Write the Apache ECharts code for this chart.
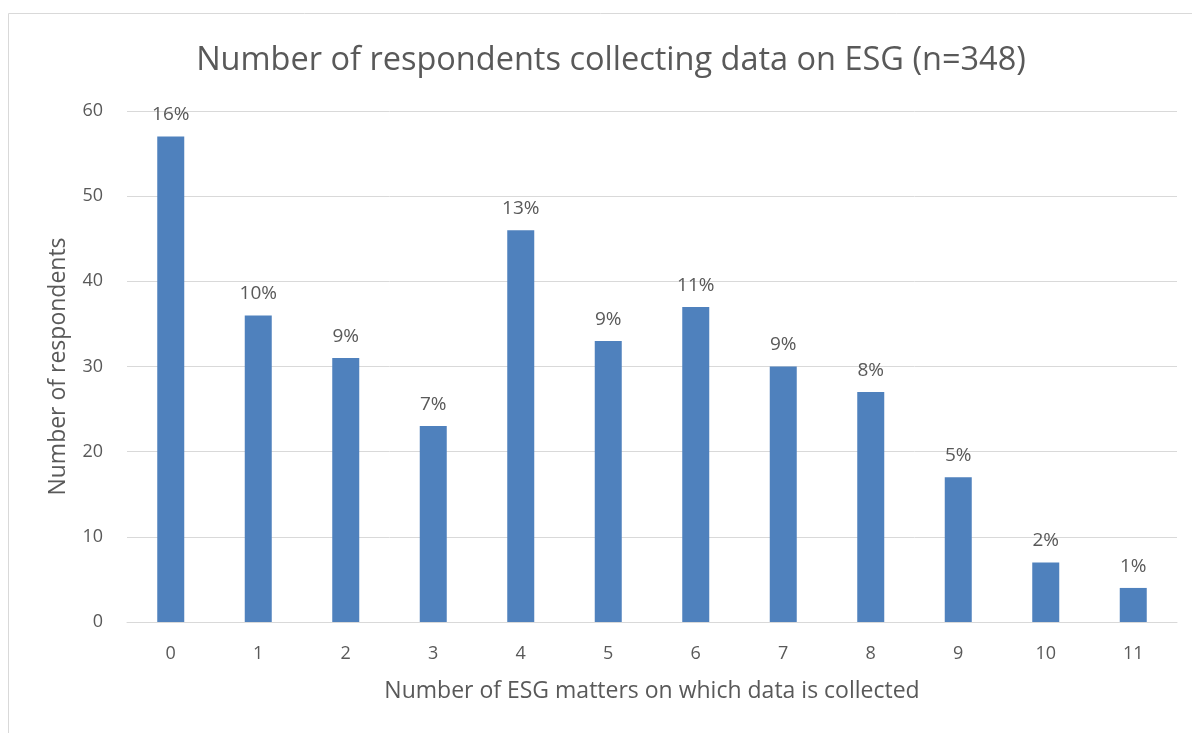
<!DOCTYPE html>
<html>
<head>
<meta charset="utf-8">
<script src="https://cdn.jsdelivr.net/npm/echarts@6/dist/echarts.min.js"></script>
<style>
  html, body { margin: 0; padding: 0; background: #fff; }
  #charts1 { width: 1192px; height: 733px; }
</style>
</head>
<body>
<div id="charts1"></div>
<script>
// 数据
var categories = ['0', '1', '2', '3', '4', '5', '6', '7', '8', '9', '10', '11'];
var respondents = [57, 36, 31, 23, 46, 33, 37, 30, 27, 17, 7, 4];
var shareLabels = ['16%', '10%', '9%', '7%', '13%', '9%', '11%', '9%', '8%', '5%', '2%', '1%'];
var yTicks = [0, 10, 20, 30, 40, 50, 60];

var textColor = '#595959';
var fontName = '"Open Sans", Lato, sans-serif';

var charts1 = echarts.init(document.getElementById('charts1'));
charts1.setOption({
    animation: false,
    textStyle: { fontFamily: fontName },
    title: {
        text: 'Number of respondents collecting data on ESG (n=348)',
        left: 606,
        textAlign: 'center',
        top: 39,
        textStyle: { color: textColor, fontSize: 32.5, fontWeight: 'normal', fontFamily: fontName }
    },
    graphic: [{
        type: 'rect',
        shape: { x: 8.5, y: 13.5, width: 1200, height: 740 },
        style: { fill: 'none', stroke: '#d9d9d9', lineWidth: 1 },
        silent: true
    }],
    grid: { left: 127, right: 15, top: 111, bottom: 111, containLabel: false },
    xAxis: {
        type: 'category',
        data: categories,
        name: 'Number of ESG matters on which data is collected',
        nameLocation: 'middle',
        nameGap: 58,
        nameTextStyle: { color: textColor, fontSize: 23 },
        axisLine: { lineStyle: { color: '#d9d9d9', width: 1 } },
        axisTick: { show: false },
        axisLabel: { color: textColor, fontSize: 18, margin: 23 }
    },
    yAxis: {
        type: 'value',
        min: yTicks[0],
        max: yTicks[yTicks.length - 1],
        interval: 10,
        name: 'Number of respondents',
        nameLocation: 'middle',
        nameGap: 57,
        nameTextStyle: { color: textColor, fontSize: 23 },
        axisLine: { show: false },
        axisTick: { show: false },
        axisLabel: { color: textColor, fontSize: 18, margin: 24 },
        splitLine: { lineStyle: { color: '#d9d9d9', width: 1 } }
    },
    series: [{
        type: 'bar',
        data: respondents,
        barWidth: 27,
        itemStyle: { color: '#4f81bd' },
        label: {
            show: true,
            position: 'top',
            distance: 12,
            color: textColor,
            fontSize: 19,
            formatter: function (p) { return shareLabels[p.dataIndex]; }
        }
    }]
});

window.onresize = function () {
    charts1.resize();
};
</script>
</body>
</html>
